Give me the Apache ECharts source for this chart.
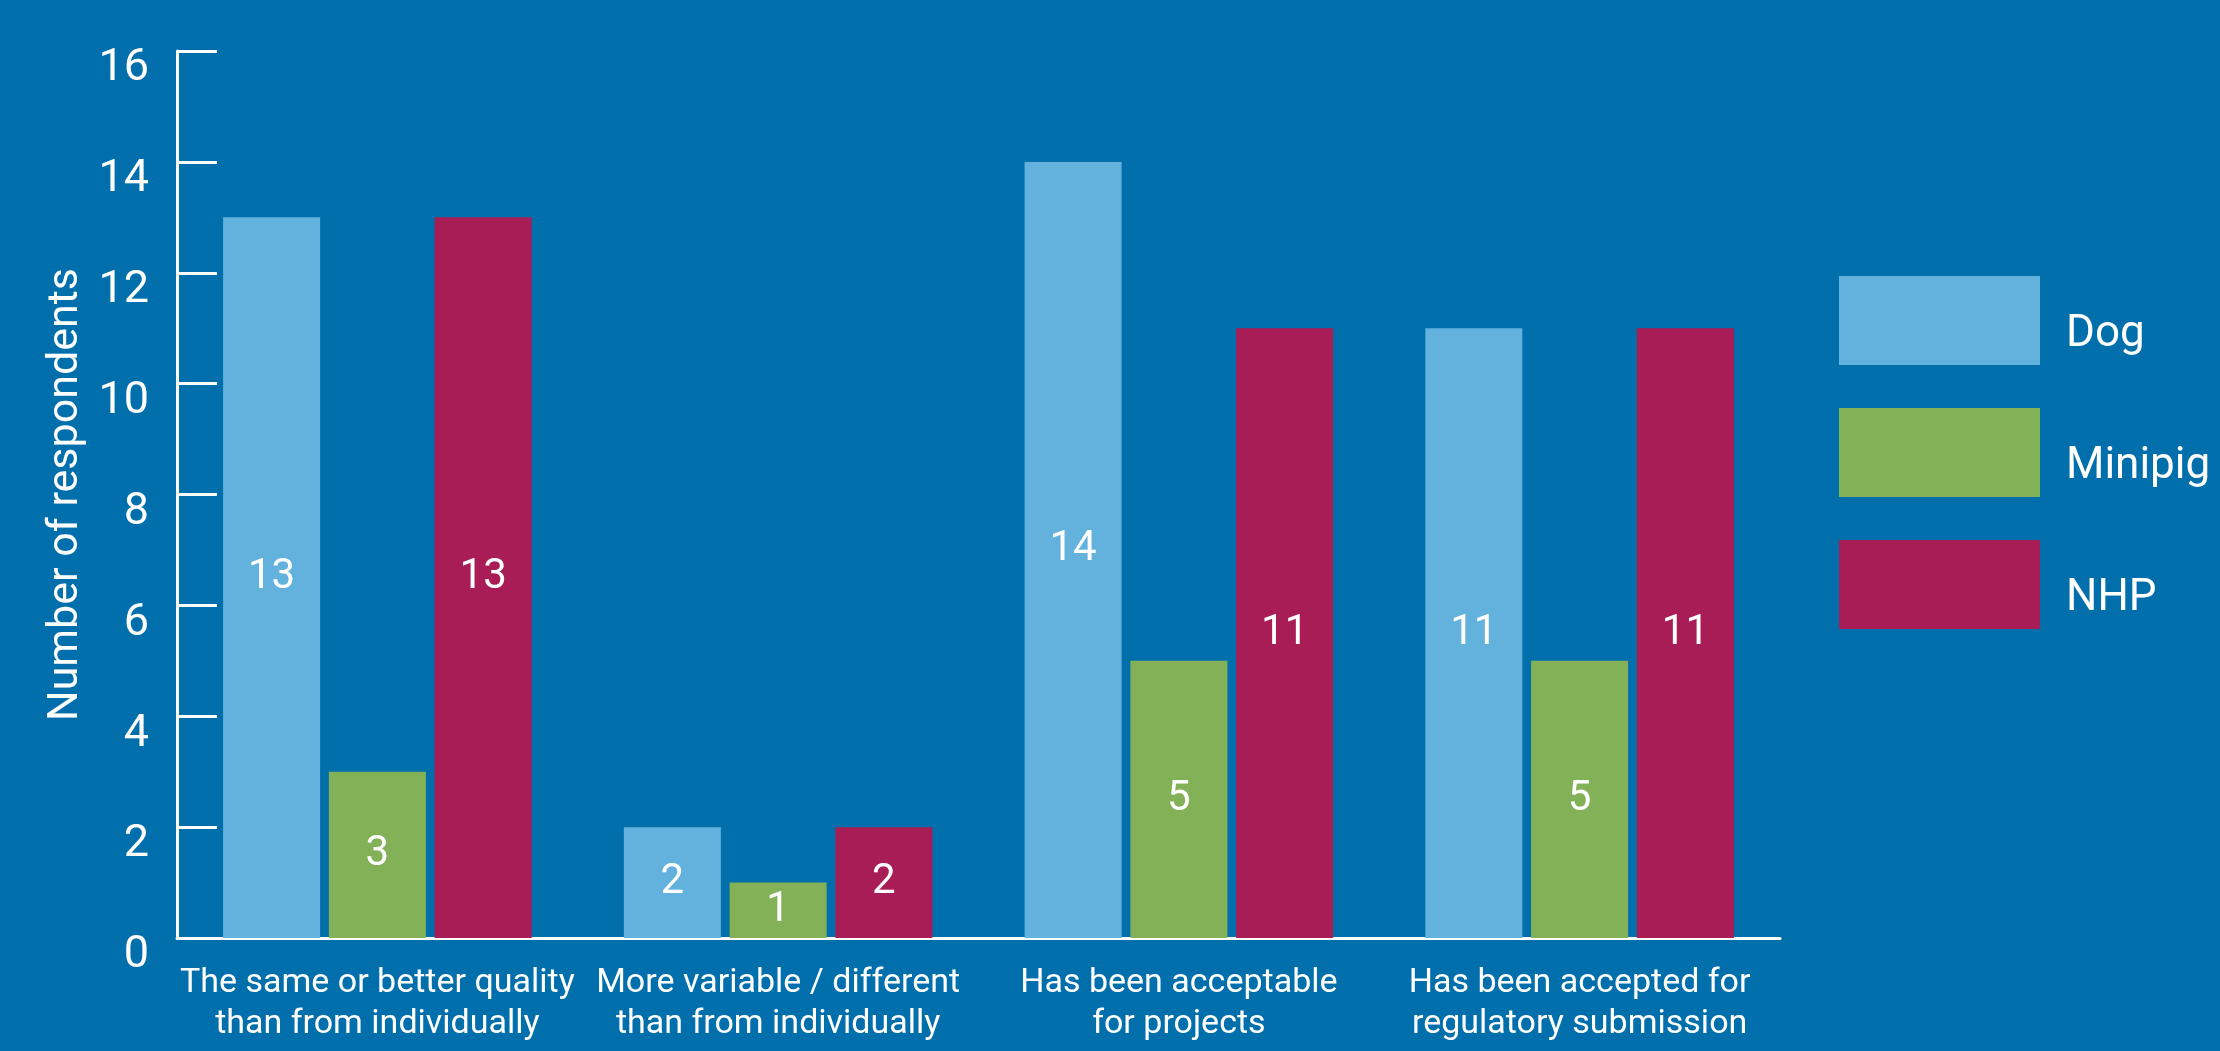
<!DOCTYPE html>
<html>
<head>
<meta charset="utf-8">
<style>
  html, body { margin: 0; padding: 0; background: #016FAC; }
  #chart { width: 2220px; height: 1051px; }
</style>
<script src="https://cdn.jsdelivr.net/npm/echarts@6/dist/echarts.min.js"></script>
</head>
<body>
<div id="chart"></div>
<script>
const categories = [
  'The same or better quality\nthan from individually',
  'More variable / different\nthan from individually',
  'Has been acceptable\nfor projects',
  'Has been accepted for\nregulatory submission'
];
const seriesNames = ['Dog', 'Minipig', 'NHP'];
const dogValues = [13, 2, 14, 11];
const minipigValues = [3, 1, 5, 5];
const nhpValues = [13, 2, 11, 11];
const yTicks = { min: 0, max: 16, interval: 2 };
const yAxisTitle = 'Number of respondents';

const colors = ['#63B2DE', '#82B157', '#A81D56'];
const font = 'Roboto, "Noto Sans", sans-serif';

const chart = echarts.init(document.getElementById('chart'));
const labelCfg = {
  show: true,
  position: 'inside',
  color: '#ffffff',
  fontSize: 42,
  fontFamily: font
};
const values = [dogValues, minipigValues, nhpValues];
chart.setOption({
  backgroundColor: '#016FAC',
  animation: false,
  legend: {
    orient: 'vertical',
    left: 1839,
    top: 276,
    padding: 0,
    itemWidth: 201,
    itemHeight: 89,
    itemGap: 43,
    icon: 'rect',
    data: seriesNames,
    formatter: '{t|{name}}',
    textStyle: {
      color: '#ffffff', fontSize: 44, fontFamily: font,
      rich: { t: { color: '#ffffff', fontSize: 44, fontFamily: font, padding: [28, 0, 0, 21] } }
    }
  },
  grid: { left: 177, top: 51, right: 440, bottom: 113, containLabel: false },
  xAxis: {
    type: 'category',
    data: categories,
    axisLine: { lineStyle: { color: '#ffffff', width: 3 } },
    axisTick: { inside: true, length: 22, lineStyle: { color: '#ffffff', width: 3 } },
    axisLabel: { color: '#ffffff', fontSize: 34, lineHeight: 41, fontFamily: font, margin: 25, interval: 0 }
  },
  yAxis: {
    type: 'value',
    min: yTicks.min,
    max: yTicks.max,
    interval: yTicks.interval,
    name: yAxisTitle,
    nameLocation: 'middle',
    nameGap: 88,
    nameRotate: 90,
    nameTextStyle: { color: '#ffffff', fontSize: 43, fontFamily: font },
    axisLine: { show: true, lineStyle: { color: '#ffffff', width: 3 } },
    axisTick: { show: true, inside: true, length: 40, lineStyle: { color: '#ffffff', width: 3 } },
    splitLine: { show: false },
    axisLabel: {
      color: '#ffffff', fontSize: 45, fontFamily: font, margin: 28,
      formatter: '{v|{value}}',
      rich: { v: { color: '#ffffff', fontSize: 45, fontFamily: font, padding: [36, 0, 0, 0] } }
    }
  },
  series: seriesNames.map((n, i) => ({
    name: n,
    type: 'bar',
    data: values[i],
    barGap: '9%',
    barCategoryGap: '23%',
    itemStyle: { color: colors[i] },
    label: labelCfg
  }))
});
</script>
</body>
</html>
